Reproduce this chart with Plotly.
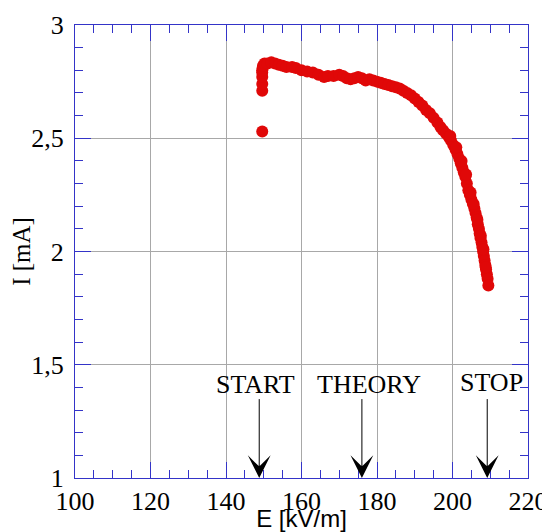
import plotly.graph_objects as go

# Data
E_kVm = [149.6, 149.6, 149.6, 149.6, 149.6, 149.6, 149.7, 149.8,
         150.2, 151.0, 152.0, 153.0, 154.0, 155.0, 156.0, 157.5, 158.5,
         160.0, 161.5, 163.0, 164.5, 166.0, 167.0, 168.5, 170.0, 171.0,
         172.0, 173.0, 174.0, 175.0, 176.0, 177.0, 178.0, 179.0, 180.0,
         181.0, 182.0, 183.0, 184.0, 185.0, 186.0, 187.0, 188.0, 189.0,
         190.0, 191.0, 192.0, 193.0, 194.0, 195.0, 196.0, 196.8, 197.5,
         198.3, 199.0, 199.6, 200.2, 200.8, 201.3, 201.8, 202.2, 202.6,
         203.0, 203.4, 203.8, 204.2, 204.6, 205.0, 205.4, 205.8, 206.1,
         206.4, 206.7, 207.0, 207.2, 207.4, 207.7, 207.9, 208.1, 208.3,
         208.5, 208.7, 208.9, 209.1, 209.3, 209.5,
         199.4, 201.0, 202.4, 203.6, 204.8, 205.6, 206.6, 207.5, 208.2, 208.8]
I_mA = [2.53, 2.71, 2.74, 2.77, 2.79, 2.80, 2.81, 2.82,
        2.83, 2.83, 2.835, 2.83, 2.825, 2.82, 2.815, 2.815, 2.81,
        2.80, 2.795, 2.79, 2.78, 2.77, 2.775, 2.775, 2.78, 2.775,
        2.765, 2.76, 2.765, 2.77, 2.765, 2.755, 2.76, 2.755, 2.75,
        2.745, 2.74, 2.735, 2.73, 2.725, 2.72, 2.71, 2.70, 2.69,
        2.675, 2.66, 2.645, 2.625, 2.61, 2.59, 2.57, 2.55, 2.535,
        2.52, 2.505, 2.49, 2.47, 2.45, 2.43, 2.41, 2.39, 2.37,
        2.35, 2.33, 2.30, 2.27, 2.25, 2.23, 2.21, 2.19, 2.17,
        2.15, 2.12, 2.10, 2.08, 2.06, 2.04, 2.02, 2.00, 1.98,
        1.96, 1.94, 1.92, 1.90, 1.88, 1.85,
        2.51, 2.46, 2.40, 2.34, 2.26, 2.21, 2.14, 2.07, 2.01, 1.93]

x_ticks = [100, 120, 140, 160, 180, 200, 220]
y_ticks = [1, 1.5, 2, 2.5, 3]
y_tick_text = ["1", "1,5", "2", "2,5", "3"]

marker_labels = ["START", "THEORY", "STOP"]
marker_E = [148.8, 176.0, 209.2]
label_E = [147.8, 178.0, 210.4]
label_I = [1.415, 1.415, 1.42]
arrow_tail_I = 1.355

blue = "#3434c8"
grid = "#a8a8a8"
serif = "Liberation Serif, Times New Roman, serif"
sans = "Liberation Sans, Arial, sans-serif"

fig = go.Figure()
fig.add_trace(go.Scatter(
    x=E_kVm, y=I_mA, mode="markers",
    marker=dict(color="#e00808", size=12, line=dict(width=0)),
    showlegend=False, hoverinfo="skip",
))

annotations = []
for name, xe, xl, yl in zip(marker_labels, marker_E, label_E, label_I):
    annotations.append(dict(
        x=xl, y=yl, xref="x", yref="y", text=name, showarrow=False,
        font=dict(family=serif, size=26, color="black"),
    ))
    annotations.append(dict(
        x=xe, y=1.0, xref="x", yref="y", ax=xe, ay=arrow_tail_I,
        axref="x", ayref="y", text="", showarrow=True,
        arrowhead=3, arrowsize=3.8, arrowwidth=1, arrowcolor="black",
        standoff=0, startstandoff=0,
    ))

# The page body adds an 8px offset, so the figure is slightly smaller
fig.update_layout(
    width=542, height=524,
    margin=dict(l=67, r=22, t=17, b=54, autoexpand=False),
    paper_bgcolor="white", plot_bgcolor="white",
    annotations=annotations,
    showlegend=False,
)

fig.update_xaxes(
    range=[100, 220], tickvals=x_ticks, ticktext=[str(v) for v in x_ticks],
    ticks="inside", ticklen=16, tickcolor=blue, tickwidth=1,
    showline=True, linecolor=blue, linewidth=1, mirror="allticks",
    showgrid=True, gridcolor=grid, gridwidth=1, zeroline=False,
    automargin=False,
    tickfont=dict(family=serif, size=26, color="black"),
    minor=dict(dtick=5, ticks="inside", ticklen=8, tickcolor=blue, showgrid=False),
    title=dict(text="E [kV/m]", font=dict(family=sans, size=24, color="black"), standoff=1),
)
fig.update_yaxes(
    range=[1, 3], tickvals=y_ticks, ticktext=y_tick_text,
    ticks="inside", ticklen=16, tickcolor=blue, tickwidth=1,
    showline=True, linecolor=blue, linewidth=1, mirror="allticks",
    showgrid=True, gridcolor=grid, gridwidth=1, zeroline=False,
    automargin=False, ticklabelstandoff=5,
    tickfont=dict(family=serif, size=26, color="black"),
    minor=dict(dtick=0.1, ticks="inside", ticklen=8, tickcolor=blue, showgrid=False),
    title=dict(text="I [mA]", font=dict(family=serif, size=25, color="black"), standoff=4),
)

fig.write_html("out.html")
